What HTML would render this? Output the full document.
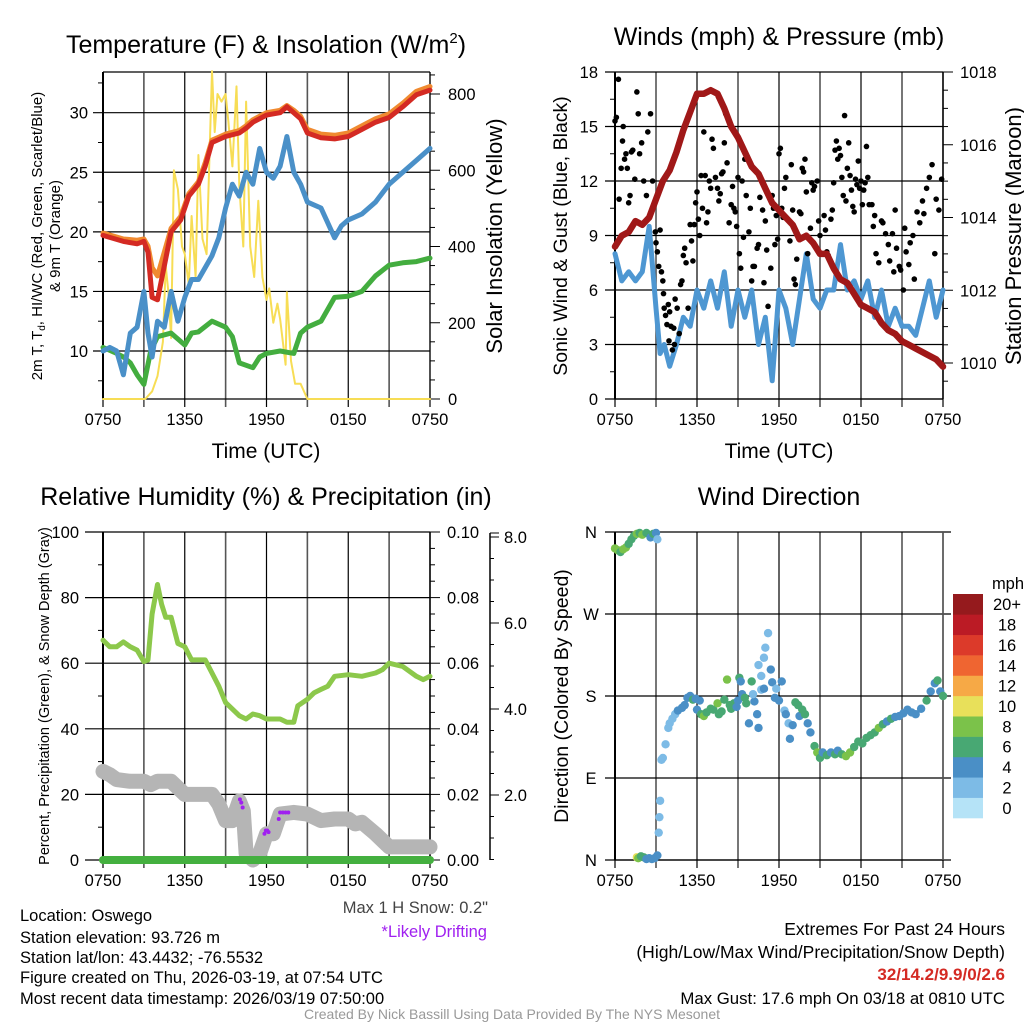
<!DOCTYPE html>
<html><head><meta charset="utf-8"><style>
html,body{margin:0;padding:0;background:#fff}
svg{display:block;font-family:"Liberation Sans",sans-serif}
</style></head><body>
<svg id="s" width="1024" height="1024" viewBox="0 0 1024 1024" xmlns="http://www.w3.org/2000/svg"></svg>
<script>
// ---------- DATA ----------
const timeLabels = ["0750","1350","1950","0150","0750"];
const tempHours = [0,1.5,2.5,3,3.3,3.6,4,4.3,5,5.7,6.3,7,7.5,8,9,10,10.5,11,12,13,13.5,14,14.5,15,16,17,18,19,20,21,22,23,24];
const tempRed   = [19.7,19.2,19.0,19.2,18.3,14.5,14.3,16,20,21,23,24,25.5,27.5,28.0,28.3,28.7,29.2,29.8,30.0,30.5,30.0,29.5,28.3,27.9,27.8,28.0,28.6,29.2,29.6,30.5,31.5,31.9];
const tempOrange= [19.9,19.4,19.3,19.4,18.8,17.0,16.3,17.5,20.3,21.3,23.2,24.2,25.8,27.7,28.2,28.5,28.9,29.4,30.0,30.2,30.6,30.2,29.7,28.6,28.2,28.1,28.3,28.9,29.5,29.9,30.8,31.8,32.2];
const dewHours = [0,0.5,1,1.5,2,2.5,3,3.3,3.6,4,4.5,5,5.5,6,6.5,7,7.5,8,8.5,9,9.5,10,10.5,11,11.5,12,12.5,13,13.5,14,14.5,15,16,17,17.5,18,19,20,21,22,23,24];
const dewBlue  = [10,10.3,10,8,11.5,12,15,11.5,9.5,12.5,12,15,12.5,14.5,16,16,17,18,19.5,22,24,23,25,24,27,25,24.5,25.5,28,25,24,22.5,22,19.5,20.5,21,21.5,22.5,24,25,26,27];
const wcHours  = [0,1,1.5,2,2.5,3,3.5,4,5,6,6.5,7,8,9,9.5,10,11,11.5,12,13,14,14.5,15,16,17,18,19,20,21,22,23,24];
const wcGreen  = [10.3,9.8,9.5,9.0,8.0,7.2,10,11.2,11.5,10.5,11.5,11.6,12.5,12,11.2,9,8.6,9.5,9.8,10,9.8,11.5,12,12.5,14.5,14.6,15,16.3,17.2,17.4,17.5,17.8];
const solHours = [0,3.1,3.6,4.0,4.4,4.6,4.8,5.0,5.2,5.5,5.8,6.0,6.3,6.5,6.8,7.0,7.3,7.6,8.0,8.2,8.4,8.7,9.0,9.2,9.5,9.8,10.0,10.3,10.5,10.8,11.1,11.4,11.7,12.0,12.2,12.5,12.8,13.0,13.4,13.5,13.8,14.1,14.5,15.0,24];
const solar    = [0,0,20,60,150,350,280,160,600,550,400,380,300,480,320,640,420,380,860,700,800,780,800,730,610,820,560,400,780,400,320,520,320,260,290,200,250,210,90,280,100,40,40,0,0];
const tempTicks = [10,15,20,25,30];
const solarTicks = [0,200,400,600,800];

const windHours = [0,0.5,1,1.5,2,2.5,3,3.3,3.6,4,4.5,5,5.5,6,6.5,7,7.5,8,8.5,9,9.5,10,10.5,11,11.5,12,12.5,13,13.5,14,14.5,15,15.5,16,16.5,17,17.5,18,18.5,19,19.5,20,20.5,21,21.5,22,22.5,23,23.5,24];
const windSpeed = [8,6.5,7,6.5,7,9.5,5,2.5,3,1.8,3,4.5,4,6,5,6.5,5,7,4,6,4.5,6,3,4.5,1,6,5,3,5.5,8,5.5,5,6,6,8.5,6,6.5,5.5,6.5,4.5,6,4,5,4,4,3.5,5,6.5,4.5,6];
const presHours = [0,0.5,1,1.5,2,2.5,3,3.5,4,4.5,5,5.5,6,6.5,7,7.5,8,8.5,9,9.5,10,10.5,11,11.5,12,12.5,13,13.5,14,14.5,15,15.5,16,16.5,17,17.5,18,18.5,19,19.5,20,20.5,21,21.5,22,22.5,23,23.5,24];
const pressure  = [1013.2,1013.5,1013.6,1013.9,1013.8,1014.0,1014.5,1015.0,1015.3,1015.8,1016.4,1016.9,1017.4,1017.4,1017.5,1017.4,1017.0,1016.5,1016.2,1015.8,1015.4,1015.2,1014.8,1014.4,1014.2,1014.0,1013.8,1013.4,1013.5,1013.3,1013.0,1013.0,1012.6,1012.3,1012.2,1011.9,1011.6,1011.5,1011.4,1011.1,1010.9,1010.8,1010.6,1010.5,1010.4,1010.3,1010.2,1010.1,1009.9];
const gustHours = [0.0,0.1,0.25,0.3,0.45,0.55,0.6,0.7,0.8,0.9,1.0,1.1,1.2,1.3,1.45,1.6,1.7,1.8,1.95,2.1,2.3,2.4,2.6,2.75,
 2.85,2.95,3.0,3.1,3.2,3.3,3.4,3.5,3.55,3.6,3.7,3.8,3.9,3.95,4.0,4.1,4.2,4.3,4.35,4.4,4.55,4.7,
 4.8,4.9,5.0,5.1,5.2,5.35,5.5,5.6,5.7,5.8,5.9,6.0,6.1,6.2,
 6.3,6.4,6.5,6.6,6.7,6.8,6.9,7.0,7.1,7.2,7.35,7.5,7.6,7.7,7.8,7.9,8.0,8.1,8.2,8.35,8.5,8.6,8.7,8.8,8.9,9.0,9.1,9.2,9.3,
 9.4,9.5,9.6,9.8,9.9,10.0,10.1,10.2,10.4,10.5,10.6,10.8,10.9,11.0,11.1,11.2,11.4,11.5,11.6,11.7,11.8,11.9,12.0,12.1,12.2,
 12.3,12.4,12.5,12.6,12.8,12.9,13.0,13.1,13.2,13.3,13.5,13.6,13.7,13.8,13.9,14.0,14.1,14.3,14.4,14.5,14.6,14.8,
 14.9,15.0,15.1,15.3,15.4,15.5,15.6,15.8,15.9,16.0,16.1,16.2,16.3,16.4,16.5,16.6,16.7,16.8,16.9,17.0,17.1,17.2,17.3,
 17.4,17.5,17.6,17.7,17.8,17.9,18.0,18.1,18.2,18.3,18.4,18.5,18.6,18.8,18.9,19.0,19.1,19.3,19.5,19.6,19.8,20.0,
 20.1,20.3,20.4,20.5,20.6,20.8,20.9,21.1,21.2,21.3,21.5,21.6,21.8,21.9,22.1,22.3,22.5,22.6,22.8,23.0,23.2,23.4,23.5,23.7,23.9];
const gustSpeed = [15.3,15.5,17.6,11,12.7,14.2,15,13.2,13.5,12.7,10.8,11.2,13.6,13.7,12.1,16.9,15.7,13.5,14.1,12,11.2,14.7,15.7,12,
 10.7,9.2,8.6,8.1,7.3,9.3,7,6.5,5.8,5,4.6,4.1,5.2,3.2,4.8,4.0,2.7,3.9,3.0,5.5,5.0,3.6,
 6.3,6.5,7.9,8.3,7.5,5,9.6,8.7,7.6,9.6,10.8,11.4,9.9,9.0,
 12.3,10.5,14.7,12.3,9.7,10.3,12,11.6,14.3,13.8,12.2,11.6,10.9,11.3,12.4,12.5,14.1,15.7,13,9.7,10.7,11.7,10.5,10.3,9.5,12.2,8,7.2,12,
 8.9,13.2,11.2,9.2,10.5,6.5,7.3,7.3,8.3,8.5,11.1,10.4,6.4,9.8,8.2,5.1,7.2,11.2,10.5,8.5,10.1,8.8,13.5,13.8,10.5,
 10,11.6,12.2,9.9,8.7,12.9,10.4,6.6,6.3,7.7,10.3,10.2,12.7,12.5,13.2,11.4,8,9.4,11.9,11.5,11.7,12,
 9.8,9.0,8.0,10.1,9.3,8.1,7.9,9.9,10.4,11.9,13.7,14.2,13.2,13.8,13.4,12.2,11.2,15.6,10.9,12.7,14.1,12.3,11.5,
 10.6,10.3,12.1,11.8,13.1,11.6,12,10.7,11.5,11.9,13.9,12.2,10.7,10.7,9.5,10.1,8.0,7.5,9.8,9.7,9.1,8.5,
 7.6,9.1,7.0,10.4,8.3,7.3,7.1,6.0,9.4,8.1,7.4,8.6,9.0,6.6,10.3,9.7,10.9,10.2,11.6,12.2,12.9,8.0,11.0,10.4,12.1];
const windTicks = [0,3,6,9,12,15,18];
const presTicks = [1010,1012,1014,1016,1018];

const rhHours = [0,0.5,1,1.5,2,2.5,3,3.3,3.6,4,4.3,4.6,5,5.5,6,6.5,7,7.5,8,8.5,9,9.5,10,10.5,11,11.5,12,13,13.5,14,14.3,15,15.5,16,16.5,17,18,19,20,20.5,21,22,23,23.5,24];
const rh      = [67,65,65,66.5,65,64,60.5,61,75,84,78,74,74,66,65,61,61,61,57,53,48,46,44,43,44.5,44,43,43,42,42,47,49,51,52,53,56,56.5,56,57,58,60,59,56,55,56];
const snowHours = [0,0.5,1,2,3,3.5,4,5,6,7,8,8.5,9,9.5,10,10.3,10.5,11,11.5,12,12.5,13,14,15,16,17,18,18.5,19,20,21,22,24];
const snowDepth = [27,26,24.5,24,24,23,24,24,20,20,20,17,12,12,18,15,2,0,2,8,8,14,14.5,14,12,12.5,12.5,11,11.5,8,4,4,4];
const driftHours = [10.05,10.15,10.25,11.85,11.95,12.05,12.15,12.9,13.0,13.2,13.4,13.6];
const driftDepth = [18.5,17.5,16,8,9,9,8.5,12.5,14.5,14.5,14.5,14.5];
const precipHours = [0,24];
const precip = [0,0];
const rhTicks = [0,20,40,60,80,100];
const precipTicks = ["0.00","0.02","0.04","0.06","0.08","0.10"];
const snowTicks = ["2.0","4.0","6.0","8.0"];

const dirHours = [0,0.2,0.4,0.6,0.8,1.0,1.2,1.4,1.6,1.8,2.0,2.3,2.6,2.8,3.0,3.1,
 1.6,1.7,1.9,2.1,2.3,2.5,2.7,2.9,3.1,
 3.2,3.25,3.3,3.4,3.5,3.7,3.9,4.0,4.2,4.4,4.6,4.9,5.1,5.3,5.5,5.7,5.9,6.2,6.0,6.3,6.5,6.7,7.0,7.2,7.5,7.6,7.8,8.0,8.2,8.4,8.5,8.7,8.9,9.0,9.1,9.2,9.3,9.5,9.6,9.8,10.0,10.2,10.4,10.5,10.7,10.9,10.1,10.5,10.7,10.9,11.0,11.2,11.4,11.5,11.7,11.8,12.0,12.2,12.4,12.5,12.7,12.8,13.0,13.2,13.4,13.5,13.7,13.9,14.1,14.3,14.6,14.8,15.0,15.2,15.5,15.8,16.1,16.3,16.6,16.9,17.2,17.5,17.8,18.1,18.4,18.7,19.0,19.3,19.6,19.9,20.2,20.5,20.8,21.1,21.4,21.7,22.0,22.4,22.8,23.1,23.4,23.6,23.8,24.0];
const dirDeg = [342,340,338,341,343,347,352,356,358,359,357,359,354,358,359,352,
 3,2,4,3,1,2,1,2,5,
 30,47,65,110,112,127,145,150,155,160,164,167,170,178,180,176,177,175,165,160,158,162,166,165,172,160,163,176,198,170,166,172,168,175,200,196,182,178,172,150,196,174,160,145,187,188,182,214,202,222,233,249,209,195,178,188,175,196,164,160,150,133,148,173,170,158,165,160,150,140,125,118,112,118,115,118,116,120,116,114,118,124,130,128,134,137,140,145,149,152,155,157,158,161,165,162,160,166,175,185,194,197,185,180];
const dirSpeed = [8,8,6,8,8,6,6,6,8,6,8,6,4,6,4,2,
 10,8,6,6,4,4,4,4,4,
 2,2,2,2,2,2,2,2,2,2,4,4,4,4,4,6,4,4,4,6,8,6,6,6,8,6,6,6,8,6,6,6,4,4,6,4,4,6,6,4,6,4,4,4,2,4,2,2,2,2,2,2,4,4,4,2,4,4,2,4,2,4,4,6,6,4,6,6,4,4,6,8,6,4,6,4,6,4,6,8,8,6,6,6,6,6,6,8,6,4,6,4,4,4,4,4,4,4,6,4,4,6,4,6,6];
const dirLabels = ["N","E","S","W","N"];
const cbLabels = ["0","2","4","6","8","10","12","14","16","18","20+"];
const cbColors = ["#b5e3f7","#7dbbe6","#4a8fc6","#48a873","#7bc24a","#e8e05a","#f6a946","#ef6531","#dc3a2a","#bb1b25","#951a1d"];

// ---------- DRAW ----------
const S = document.getElementById('s');
const NS = "http://www.w3.org/2000/svg";
const TF = 16.5;
function el(tag, attrs, parent){const e=document.createElementNS(NS,tag);for(const k in attrs)e.setAttribute(k,attrs[k]);(parent||S).appendChild(e);return e;}
function txt(x,y,str,size,anchor,parent,extra){const t=el('text',Object.assign({x:x,y:y,'font-size':size,'text-anchor':anchor||'start',fill:'#000'},extra||{}),parent);t.textContent=str;return t;}
const X0=103,X1=430,X0b=615,X1b=943;
function xs(x0,x1){return h=>x0+h/24*(x1-x0);}
function lin(d0,d1,p0,p1){return v=>p0+(v-d0)/(d1-d0)*(p1-p0);}

function grid(g,x0,x1,y0,y1,yvals,yscale,extLeft,extRight){
  const xsc=xs(x0,x1);
  for(let i=0;i<=8;i++){const x=xsc(i*3);el('line',{x1:x,y1:y0,x2:x,y2:y1+8,stroke:(i%2?'#555':'#000'),'stroke-width':(i%2?1.6:1.2)},g);}
  yvals.forEach(v=>{const y=yscale(v);el('line',{x1:x0-extLeft,y1:y,x2:x1+extRight,y2:y,stroke:'#000','stroke-width':1.2},g);});
  el('line',{x1:x0,y1:y0,x2:x0,y2:y1,stroke:'#000','stroke-width':2},g);
  el('line',{x1:x0,y1:y1,x2:x1,y2:y1,stroke:'#000','stroke-width':1.2},g);
  timeLabels.forEach((l,i)=>{txt(xsc(i*6),y1+26,l,TF,'middle',g);});
}
function path(g,hs,vs,xsc,ysc,stroke,w,name){
  let d='';hs.forEach((h,i)=>{d+=(i?'L':'M')+xsc(h).toFixed(1)+' '+ysc(vs[i]).toFixed(1);});
  const p=el('path',{d:d,fill:'none',stroke:stroke,'stroke-width':w,'stroke-linejoin':'round','stroke-linecap':'round'},g);
  
  
  return p;
}

// Panel 1
{
const g=el('g',{});


const xsc=xs(X0,X1), ysc=lin(10,30,351,112.7), ysol=lin(0,800,399,94);
el('line',{x1:X0,y1:72,x2:X1,y2:72,stroke:'#000','stroke-width':1.2},g);
grid(g,X0,X1,72,399,tempTicks,ysc,10,0);
for(let v=7.5;v<33.5;v+=2.5){if(v%5)el('line',{x1:X0-5,y1:ysc(v),x2:X0,y2:ysc(v),stroke:'#000'},g);}
tempTicks.forEach(v=>txt(X0-15,ysc(v)+6,String(v),TF,'end',g));
el('line',{x1:X1,y1:72,x2:X1,y2:399,stroke:'#000','stroke-width':1.2},g);
for(let v=0;v<=850;v+=50){el('line',{x1:X1,y1:ysol(v),x2:X1+(v%200?5:10),y2:ysol(v),stroke:'#000'},g);}
solarTicks.forEach(v=>txt(X1+18,ysol(v)+6,String(v),TF,'start',g));
path(g,solHours,solar,xsc,ysol,'#f7dd55',2,'solar-insolation-line');
path(g,wcHours,wcGreen,xsc,ysc,'#43ad3f',5,'windchill-line');
path(g,dewHours,dewBlue,xsc,ysc,'#4a90c8',5,'dewpoint-line');
path(g,tempHours,tempOrange,xsc,ysc,'#f08a30',5,'temp-9m-line');
path(g,tempHours,tempRed,xsc,ysc,'#d42a23',5,'temp-2m-line');
const t=txt(266,53,'Temperature (F) & Insolation (W/m',25,'middle',g);
const ts=el('tspan',{'font-size':15,dy:-10},t);ts.textContent='2';
const ts2=el('tspan',{dy:10},t);ts2.textContent=')';

txt(266,458,'Time (UTC)',21,'middle',g);
const yl=el('text',{transform:'translate(42,236) rotate(-90)','font-size':15,'text-anchor':'middle'},g);
yl.textContent='2m T, T';const sub=el('tspan',{'font-size':10,dy:3},yl);sub.textContent='d';const r=el('tspan',{dy:-3},yl);r.textContent=', HI/WC (Red, Green, Scarlet/Blue)';
txt(0,0,'& 9m T (Orange)',15,'middle',g,{transform:'translate(60,236) rotate(-90)'});
txt(0,0,'Solar Insolation (Yellow)',22,'middle',g,{transform:'translate(502,236) rotate(-90)'});
}

// Panel 2
{
const g=el('g',{});


const xsc=xs(X0b,X1b), ysc=lin(0,18,399,72), yp=lin(1010,1018,363,72);
grid(g,X0b,X1b,72,399,windTicks,ysc,10,0);
for(let v=1.5;v<18;v+=3)el('line',{x1:X0b-5,y1:ysc(v),x2:X0b,y2:ysc(v),stroke:'#000'},g);
windTicks.forEach(v=>txt(X0b-17,ysc(v)+6,String(v),TF,'end',g));
el('line',{x1:X1b,y1:72,x2:X1b,y2:399,stroke:'#000','stroke-width':1.5},g);
for(let v=1009.5;v<=1018;v+=0.5){const y=yp(v);if(y<=399)el('line',{x1:X1b,y1:y,x2:X1b+(v%2===0?10:5),y2:y,stroke:'#000'},g);}
presTicks.forEach(v=>txt(X1b+17,yp(v)+6,String(v),TF,'start',g));
path(g,windHours,windSpeed,xsc,ysc,'#4e97d2',5,'sonic-wind-line');
gustHours.forEach((h,i)=>{const c=el('circle',{cx:xsc(h),cy:ysc(gustSpeed[i]),r:2.8,fill:'#000'},g);
 
 });
path(g,presHours,pressure,xsc,yp,'#a01818',6.5,'pressure-line');
txt(779,45,'Winds (mph) & Pressure (mb)',25,'middle',g);
txt(779,458,'Time (UTC)',21,'middle',g);
txt(0,0,'Sonic Wind & Gust (Blue, Black)',19.5,'middle',g,{transform:'translate(567,236) rotate(-90)'});
txt(0,0,'Station Pressure (Maroon)',22,'middle',g,{transform:'translate(1021,236) rotate(-90)'});
}

// Panel 3
{
const g=el('g',{});


const xsc=xs(X0,X1), ysc=lin(0,100,860,532);
grid(g,X0,X1,532,860,rhTicks,ysc,18,0);
for(let v=10;v<100;v+=20)el('line',{x1:X0-5,y1:ysc(v),x2:X0,y2:ysc(v),stroke:'#000'},g);
rhTicks.forEach(v=>txt(X0-24,ysc(v)+6,String(v),TF,'end',g));
el('line',{x1:X1,y1:532,x2:X1,y2:860,stroke:'#000','stroke-width':1.5},g);
for(let v=0;v<=100;v+=5)el('line',{x1:X1,y1:ysc(v),x2:X1+(v%20?5:10),y2:ysc(v),stroke:'#000'},g);
precipTicks.forEach((l,i)=>txt(X1+17,ysc(i*20)+6,l,TF,'start',g));
el('line',{x1:490,y1:533,x2:490,y2:860,stroke:'#000','stroke-width':1.5},g);
const ysn=v=>881-v*43;
for(let v=0.5;v<=8;v+=0.5){const y=ysn(v);if(y<=860&&y>=533)el('line',{x1:490,y1:y,x2:490+(v%2?4:9),y2:y,stroke:'#000'},g);}
el('line',{x1:490,y1:533,x2:499,y2:533,stroke:'#000'},g);
snowTicks.forEach((l,i)=>txt(504,ysn((i+1)*2)+6,l,TF,'start',g));
path(g,rhHours,rh,xsc,ysc,'#8cc84b',5,'rh-line');
path(g,snowHours,snowDepth,xsc,ysc,'#b5b5b5',15,'snow-depth-line');
driftHours.forEach((h,i)=>{const c=el('circle',{cx:xsc(h),cy:ysc(driftDepth[i]),r:2,fill:'#a020f0'},g);
 
 });
path(g,precipHours,precip,xsc,ysc,'#44b03f',8,'precip-line');
txt(266,505,'Relative Humidity (%) & Precipitation (in)',25,'middle',g);
txt(0,0,'Percent, Precipitation (Green), & Snow Depth (Gray)',14.5,'middle',g,{transform:'translate(49,696) rotate(-90)'});
}

// Panel 4
{
const g=el('g',{});


const xsc=xs(X0b,X1b), ysc=lin(0,360,860,532);
grid(g,X0b,X1b,532,860,[0,90,180,270,360],ysc,10,8);
dirLabels.forEach((l,i)=>txt(X0b-24,ysc(i*90)+6,l,TF,'middle',g));
el('line',{x1:X1b,y1:532,x2:X1b,y2:860,stroke:'#555','stroke-width':1.6},g);
dirHours.forEach((h,i)=>{const c=el('circle',{cx:xsc(h),cy:ysc(dirDeg[i]),r:4.2,fill:cbColors[Math.min(10,Math.round(dirSpeed[i]/2))]},g);
 
 });
txt(779,505,'Wind Direction',25,'middle',g);
txt(0,0,'Direction (Colored By Speed)',19.5,'middle',g,{transform:'translate(568,696) rotate(-90)'});
const cb=el('g',{},g);


const h=(818-594)/11;
cbColors.forEach((c,i)=>{el('rect',{x:953,y:818-(i+1)*h,width:30,height:h+0.3,fill:c},cb);txt(1007,818-i*h-h/2+6,cbLabels[i],TF,'middle',cb);});
txt(1008,589,'mph',TF,'middle',cb);
}

// Footer text
{
const g=el('g',{});


['Location: Oswego','Station elevation: 93.726 m','Station lat/lon: 43.4432; -76.5532','Figure created on Thu, 2026-03-19, at 07:54 UTC','Most recent data timestamp: 2026/03/19 07:50:00'].forEach((s,i)=>txt(20,[921,943,963,983,1004][i],s,16.5,'start',g));
txt(488,913,'Max 1 H Snow: 0.2"',16.5,'end',g,{fill:'#444'});
txt(487,937,'*Likely Drifting',16.5,'end',g,{fill:'#a020f0'});
txt(1005,935,'Extremes For Past 24 Hours',17.5,'end',g);
txt(1005,958,'(High/Low/Max Wind/Precipitation/Snow Depth)',17.5,'end',g);
txt(1005,980,'32/14.2/9.9/0/2.6',17,'end',g,{fill:'#d42a23','font-weight':'bold'});
txt(1005,1004,'Max Gust: 17.6 mph On 03/18 at 0810 UTC',16.8,'end',g);
txt(512,1019,'Created By Nick Bassill Using Data Provided By The NYS Mesonet',14,'middle',g,{fill:'#999'});
}
</script>
</body></html>
